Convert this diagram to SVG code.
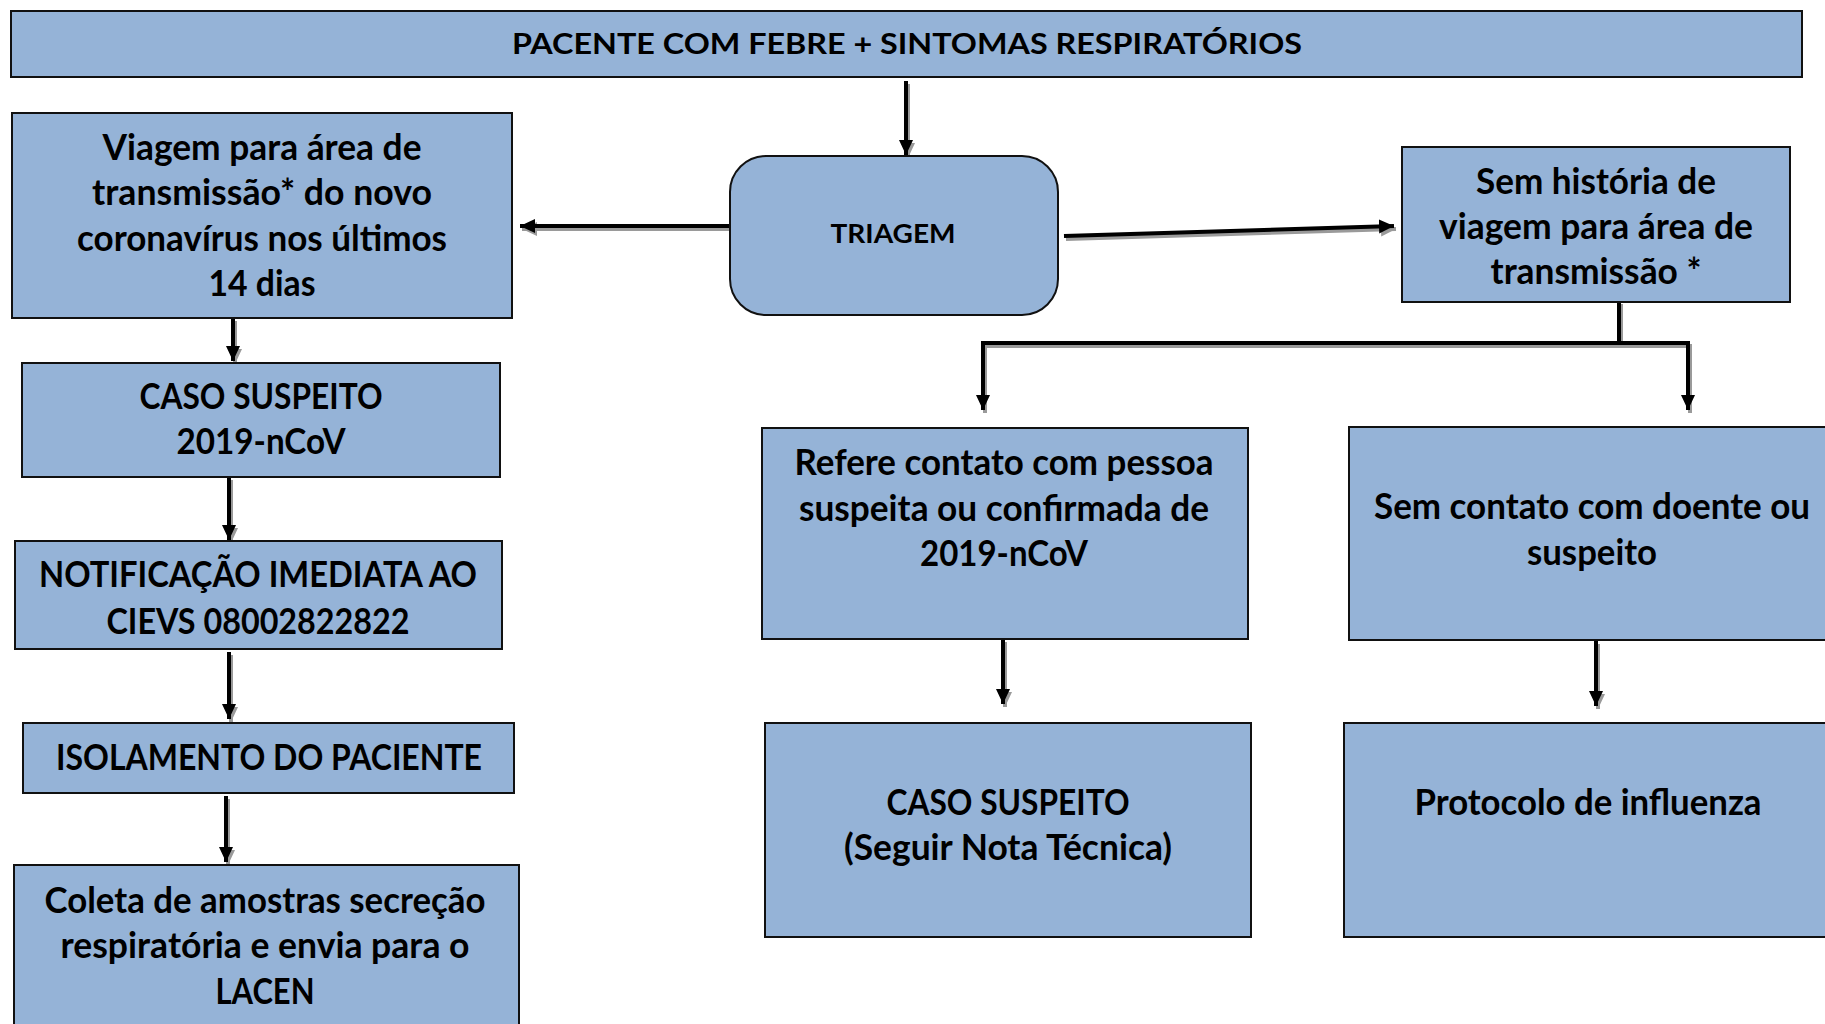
<svg xmlns="http://www.w3.org/2000/svg" width="1825" height="1024" viewBox="0 0 1825 1024">
<style>
.box{fill:#95B3D7;stroke:#111;stroke-width:2}
.t{font-family:Lato,"Open Sans","Liberation Sans",sans-serif;font-weight:bold;font-size:36px;fill:#000;text-anchor:middle}
.sm{font-size:29px}
.ln{fill:none;stroke:#000;stroke-width:4}
.sh{fill:none;stroke:#9a9a9a;stroke-width:4}
</style>
<defs>
<marker id="ah" markerUnits="userSpaceOnUse" markerWidth="16" markerHeight="16" refX="15" refY="8" orient="auto"><path d="M0,1 L15,8 L0,15 z" fill="#000"/></marker>
<marker id="ahs" markerUnits="userSpaceOnUse" markerWidth="16" markerHeight="16" refX="15" refY="8" orient="auto"><path d="M0,1 L15,8 L0,15 z" fill="#9a9a9a"/></marker>
</defs>
<rect width="1825" height="1024" fill="#fff"/>
<g id="connectors">
<g transform="translate(2,3)">
<path class="sh" d="M906,81 L906,155" marker-end="url(#ahs)"/>
<path class="sh" d="M730,226 L520,226" marker-end="url(#ahs)"/>
<path class="sh" d="M1064,236 L1394,226" marker-end="url(#ahs)"/>
<path class="sh" d="M1619,301 L1619,343"/>
<path class="sh" d="M1688,410 L1688,343 L983,343 L983,410"/>
<path class="sh" d="M1003,639 L1003,704" marker-end="url(#ahs)"/>
<path class="sh" d="M1596,641 L1596,706" marker-end="url(#ahs)"/>
<path class="sh" d="M233,318 L233,361" marker-end="url(#ahs)"/>
<path class="sh" d="M229,477 L229,540" marker-end="url(#ahs)"/>
<path class="sh" d="M229,652 L229,719" marker-end="url(#ahs)"/>
<path class="sh" d="M226,796 L226,862" marker-end="url(#ahs)"/>
</g>
<path class="ln" d="M906,81 L906,155" marker-end="url(#ah)"/>
<path class="ln" d="M730,226 L520,226" marker-end="url(#ah)"/>
<path class="ln" d="M1064,236 L1394,226" marker-end="url(#ah)"/>
<path class="ln" d="M1619,301 L1619,343"/>
<path class="ln" d="M983,410 L983,343 L1688,343 L1688,410" marker-end="url(#ah)"/>
<path class="ln" d="M983,345 L983,410" marker-end="url(#ah)"/>
<path class="ln" d="M1003,639 L1003,704" marker-end="url(#ah)"/>
<path class="ln" d="M1596,641 L1596,706" marker-end="url(#ah)"/>
<path class="ln" d="M233,318 L233,361" marker-end="url(#ah)"/>
<path class="ln" d="M229,477 L229,540" marker-end="url(#ah)"/>
<path class="ln" d="M229,652 L229,719" marker-end="url(#ah)"/>
<path class="ln" d="M226,796 L226,862" marker-end="url(#ah)"/>
</g>
<g id="top">
<rect class="box" x="11" y="11" width="1791" height="66"/>
<text class="t sm" x="907" y="54" textLength="790" lengthAdjust="spacingAndGlyphs">PACENTE COM FEBRE + SINTOMAS RESPIRATÓRIOS</text>
</g>
<g id="triagem">
<rect class="box" x="730" y="156" width="328" height="159" rx="36" ry="36"/>
<text class="t" style="font-size:26px" x="893" y="243" textLength="125" lengthAdjust="spacingAndGlyphs">TRIAGEM</text>
</g>
<g id="viagem">
<rect class="box" x="12" y="113" width="500" height="205"/>
<text class="t" x="262" y="160" textLength="319" lengthAdjust="spacingAndGlyphs">Viagem para área de</text>
<text class="t" x="262" y="205" textLength="340" lengthAdjust="spacingAndGlyphs">transmissão* do novo</text>
<text class="t" x="262" y="251" textLength="370" lengthAdjust="spacingAndGlyphs">coronavírus nos últimos</text>
<text class="t" x="262" y="296" textLength="107" lengthAdjust="spacingAndGlyphs">14 dias</text>
</g>
<g id="sem-historia">
<rect class="box" x="1402" y="147" width="388" height="155"/>
<text class="t" x="1596" y="194" textLength="240" lengthAdjust="spacingAndGlyphs">Sem história de</text>
<text class="t" x="1596" y="239" textLength="314" lengthAdjust="spacingAndGlyphs">viagem para área de</text>
<text class="t" x="1596" y="284" textLength="211" lengthAdjust="spacingAndGlyphs">transmissão *</text>
</g>
<g id="caso-suspeito-1">
<rect class="box" x="22" y="363" width="478" height="114"/>
<text class="t" x="261" y="409" textLength="243" lengthAdjust="spacingAndGlyphs">CASO SUSPEITO</text>
<text class="t" x="261" y="454" textLength="169" lengthAdjust="spacingAndGlyphs">2019-nCoV</text>
</g>
<g id="notificacao">
<rect class="box" x="15" y="541" width="487" height="108"/>
<text class="t" x="258" y="587" textLength="438" lengthAdjust="spacingAndGlyphs">NOTIFICAÇÃO IMEDIATA AO</text>
<text class="t" x="258" y="634" textLength="303" lengthAdjust="spacingAndGlyphs">CIEVS 08002822822</text>
</g>
<g id="isolamento">
<rect class="box" x="23" y="723" width="491" height="70"/>
<text class="t" x="269" y="770" textLength="426" lengthAdjust="spacingAndGlyphs">ISOLAMENTO DO PACIENTE</text>
</g>
<g id="coleta">
<rect class="box" x="14" y="865" width="505" height="170"/>
<text class="t" x="265" y="913" textLength="441" lengthAdjust="spacingAndGlyphs">Coleta de amostras secreção</text>
<text class="t" x="265" y="958" textLength="409" lengthAdjust="spacingAndGlyphs">respiratória e envia para o</text>
<text class="t" x="265" y="1004" textLength="99" lengthAdjust="spacingAndGlyphs">LACEN</text>
</g>
<g id="refere">
<rect class="box" x="762" y="428" width="486" height="211"/>
<text class="t" x="1004" y="475" textLength="419" lengthAdjust="spacingAndGlyphs">Refere contato com pessoa</text>
<text class="t" x="1004" y="521" textLength="410" lengthAdjust="spacingAndGlyphs">suspeita ou confirmada de</text>
<text class="t" x="1004" y="566" textLength="168" lengthAdjust="spacingAndGlyphs">2019-nCoV</text>
</g>
<g id="sem-contato">
<rect class="box" x="1349" y="427" width="490" height="213"/>
<text class="t" x="1592" y="519" textLength="436" lengthAdjust="spacingAndGlyphs">Sem contato com doente ou</text>
<text class="t" x="1592" y="565" textLength="130" lengthAdjust="spacingAndGlyphs">suspeito</text>
</g>
<g id="caso-suspeito-2">
<rect class="box" x="765" y="723" width="486" height="214"/>
<text class="t" x="1008" y="815" textLength="243" lengthAdjust="spacingAndGlyphs">CASO SUSPEITO</text>
<text class="t" x="1008" y="860" textLength="328" lengthAdjust="spacingAndGlyphs">(Seguir Nota Técnica)</text>
</g>
<g id="protocolo">
<rect class="box" x="1344" y="723" width="495" height="214"/>
<text class="t" x="1588" y="815" textLength="347" lengthAdjust="spacingAndGlyphs">Protocolo de influenza</text>
</g>
</svg>
